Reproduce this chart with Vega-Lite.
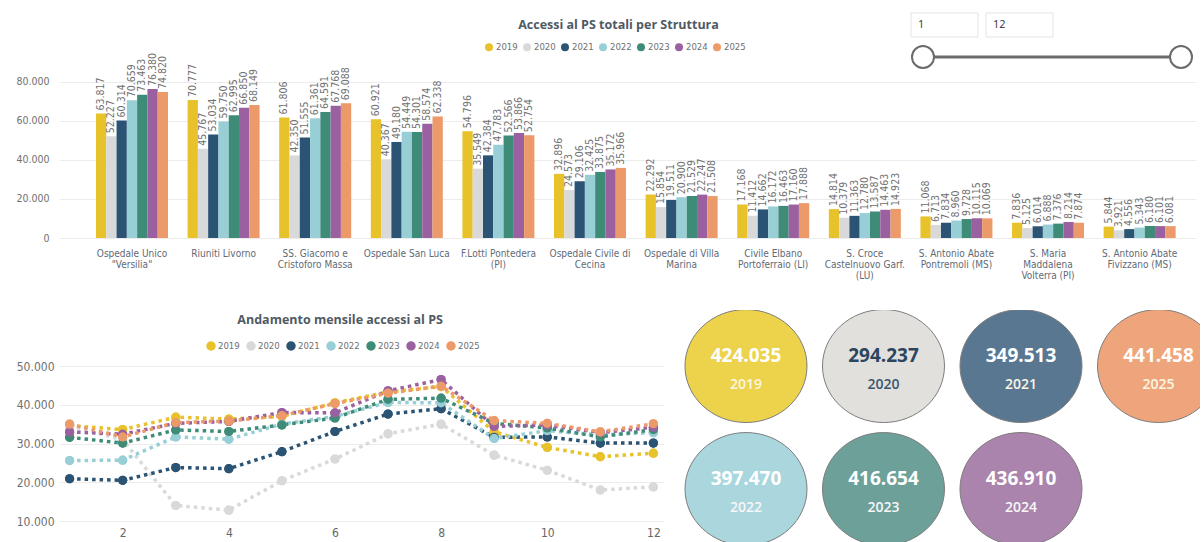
{
  "$schema": "https://vega.github.io/schema/vega-lite/v6.json",
  "background": "white",
  "padding": {"left": 15, "top": 10, "right": 0, "bottom": 0},
  "config": {
    "locale": {"number": {"decimal": ",", "thousands": ".", "grouping": [3], "currency": ["€", ""]}},
    "view": {"stroke": null},
    "font": "Open Sans"
  },
  "datasets": {
    "bars": [
      {"hospital": "Ospedale Unico\n\"Versilia\"", "year": "2019", "value": 63817},
      {"hospital": "Ospedale Unico\n\"Versilia\"", "year": "2020", "value": 52227},
      {"hospital": "Ospedale Unico\n\"Versilia\"", "year": "2021", "value": 60314},
      {"hospital": "Ospedale Unico\n\"Versilia\"", "year": "2022", "value": 70659},
      {"hospital": "Ospedale Unico\n\"Versilia\"", "year": "2023", "value": 73463},
      {"hospital": "Ospedale Unico\n\"Versilia\"", "year": "2024", "value": 76380},
      {"hospital": "Ospedale Unico\n\"Versilia\"", "year": "2025", "value": 74820},
      {"hospital": "Riuniti Livorno", "year": "2019", "value": 70777},
      {"hospital": "Riuniti Livorno", "year": "2020", "value": 45767},
      {"hospital": "Riuniti Livorno", "year": "2021", "value": 53034},
      {"hospital": "Riuniti Livorno", "year": "2022", "value": 59750},
      {"hospital": "Riuniti Livorno", "year": "2023", "value": 62995},
      {"hospital": "Riuniti Livorno", "year": "2024", "value": 66850},
      {"hospital": "Riuniti Livorno", "year": "2025", "value": 68149},
      {"hospital": "SS. Giacomo e\nCristoforo Massa", "year": "2019", "value": 61806},
      {"hospital": "SS. Giacomo e\nCristoforo Massa", "year": "2020", "value": 42350},
      {"hospital": "SS. Giacomo e\nCristoforo Massa", "year": "2021", "value": 51555},
      {"hospital": "SS. Giacomo e\nCristoforo Massa", "year": "2022", "value": 61361},
      {"hospital": "SS. Giacomo e\nCristoforo Massa", "year": "2023", "value": 64591},
      {"hospital": "SS. Giacomo e\nCristoforo Massa", "year": "2024", "value": 67768},
      {"hospital": "SS. Giacomo e\nCristoforo Massa", "year": "2025", "value": 69088},
      {"hospital": "Ospedale San Luca", "year": "2019", "value": 60921},
      {"hospital": "Ospedale San Luca", "year": "2020", "value": 40367},
      {"hospital": "Ospedale San Luca", "year": "2021", "value": 49180},
      {"hospital": "Ospedale San Luca", "year": "2022", "value": 54449},
      {"hospital": "Ospedale San Luca", "year": "2023", "value": 54301},
      {"hospital": "Ospedale San Luca", "year": "2024", "value": 58574},
      {"hospital": "Ospedale San Luca", "year": "2025", "value": 62338},
      {"hospital": "F.Lotti Pontedera\n(PI)", "year": "2019", "value": 54796},
      {"hospital": "F.Lotti Pontedera\n(PI)", "year": "2020", "value": 35549},
      {"hospital": "F.Lotti Pontedera\n(PI)", "year": "2021", "value": 42384},
      {"hospital": "F.Lotti Pontedera\n(PI)", "year": "2022", "value": 47783},
      {"hospital": "F.Lotti Pontedera\n(PI)", "year": "2023", "value": 52566},
      {"hospital": "F.Lotti Pontedera\n(PI)", "year": "2024", "value": 53866},
      {"hospital": "F.Lotti Pontedera\n(PI)", "year": "2025", "value": 52754},
      {"hospital": "Ospedale Civile di\nCecina", "year": "2019", "value": 32896},
      {"hospital": "Ospedale Civile di\nCecina", "year": "2020", "value": 24573},
      {"hospital": "Ospedale Civile di\nCecina", "year": "2021", "value": 29106},
      {"hospital": "Ospedale Civile di\nCecina", "year": "2022", "value": 32425},
      {"hospital": "Ospedale Civile di\nCecina", "year": "2023", "value": 33875},
      {"hospital": "Ospedale Civile di\nCecina", "year": "2024", "value": 35172},
      {"hospital": "Ospedale Civile di\nCecina", "year": "2025", "value": 35966},
      {"hospital": "Ospedale di Villa\nMarina", "year": "2019", "value": 22292},
      {"hospital": "Ospedale di Villa\nMarina", "year": "2020", "value": 15854},
      {"hospital": "Ospedale di Villa\nMarina", "year": "2021", "value": 19511},
      {"hospital": "Ospedale di Villa\nMarina", "year": "2022", "value": 20900},
      {"hospital": "Ospedale di Villa\nMarina", "year": "2023", "value": 21529},
      {"hospital": "Ospedale di Villa\nMarina", "year": "2024", "value": 22247},
      {"hospital": "Ospedale di Villa\nMarina", "year": "2025", "value": 21508},
      {"hospital": "Civile Elbano\nPortoferraio (LI)", "year": "2019", "value": 17168},
      {"hospital": "Civile Elbano\nPortoferraio (LI)", "year": "2020", "value": 11412},
      {"hospital": "Civile Elbano\nPortoferraio (LI)", "year": "2021", "value": 14662},
      {"hospital": "Civile Elbano\nPortoferraio (LI)", "year": "2022", "value": 16172},
      {"hospital": "Civile Elbano\nPortoferraio (LI)", "year": "2023", "value": 16463},
      {"hospital": "Civile Elbano\nPortoferraio (LI)", "year": "2024", "value": 17160},
      {"hospital": "Civile Elbano\nPortoferraio (LI)", "year": "2025", "value": 17888},
      {"hospital": "S. Croce\nCastelnuovo Garf.\n(LU)", "year": "2019", "value": 14814},
      {"hospital": "S. Croce\nCastelnuovo Garf.\n(LU)", "year": "2020", "value": 10379},
      {"hospital": "S. Croce\nCastelnuovo Garf.\n(LU)", "year": "2021", "value": 11363},
      {"hospital": "S. Croce\nCastelnuovo Garf.\n(LU)", "year": "2022", "value": 12780},
      {"hospital": "S. Croce\nCastelnuovo Garf.\n(LU)", "year": "2023", "value": 13587},
      {"hospital": "S. Croce\nCastelnuovo Garf.\n(LU)", "year": "2024", "value": 14463},
      {"hospital": "S. Croce\nCastelnuovo Garf.\n(LU)", "year": "2025", "value": 14923},
      {"hospital": "S. Antonio Abate\nPontremoli (MS)", "year": "2019", "value": 11068},
      {"hospital": "S. Antonio Abate\nPontremoli (MS)", "year": "2020", "value": 6713},
      {"hospital": "S. Antonio Abate\nPontremoli (MS)", "year": "2021", "value": 7834},
      {"hospital": "S. Antonio Abate\nPontremoli (MS)", "year": "2022", "value": 8960},
      {"hospital": "S. Antonio Abate\nPontremoli (MS)", "year": "2023", "value": 9728},
      {"hospital": "S. Antonio Abate\nPontremoli (MS)", "year": "2024", "value": 10115},
      {"hospital": "S. Antonio Abate\nPontremoli (MS)", "year": "2025", "value": 10069},
      {"hospital": "S. Maria\nMaddalena\nVolterra (PI)", "year": "2019", "value": 7836},
      {"hospital": "S. Maria\nMaddalena\nVolterra (PI)", "year": "2020", "value": 5125},
      {"hospital": "S. Maria\nMaddalena\nVolterra (PI)", "year": "2021", "value": 6014},
      {"hospital": "S. Maria\nMaddalena\nVolterra (PI)", "year": "2022", "value": 6888},
      {"hospital": "S. Maria\nMaddalena\nVolterra (PI)", "year": "2023", "value": 7376},
      {"hospital": "S. Maria\nMaddalena\nVolterra (PI)", "year": "2024", "value": 8214},
      {"hospital": "S. Maria\nMaddalena\nVolterra (PI)", "year": "2025", "value": 7874},
      {"hospital": "S. Antonio Abate\nFivizzano (MS)", "year": "2019", "value": 5844},
      {"hospital": "S. Antonio Abate\nFivizzano (MS)", "year": "2020", "value": 3921},
      {"hospital": "S. Antonio Abate\nFivizzano (MS)", "year": "2021", "value": 4556},
      {"hospital": "S. Antonio Abate\nFivizzano (MS)", "year": "2022", "value": 5343},
      {"hospital": "S. Antonio Abate\nFivizzano (MS)", "year": "2023", "value": 6180},
      {"hospital": "S. Antonio Abate\nFivizzano (MS)", "year": "2024", "value": 6101},
      {"hospital": "S. Antonio Abate\nFivizzano (MS)", "year": "2025", "value": 6081}
    ],
    "monthly": [
      {"year": "2019", "month": 1, "value": 34600}, {"year": "2019", "month": 2, "value": 33600}, {"year": "2019", "month": 3, "value": 36800}, {"year": "2019", "month": 4, "value": 36300}, {"year": "2019", "month": 5, "value": 37000}, {"year": "2019", "month": 6, "value": 40500}, {"year": "2019", "month": 7, "value": 43300}, {"year": "2019", "month": 8, "value": 44700}, {"year": "2019", "month": 9, "value": 33000}, {"year": "2019", "month": 10, "value": 29000}, {"year": "2019", "month": 11, "value": 26600}, {"year": "2019", "month": 12, "value": 27500},
      {"year": "2020", "month": 1, "value": 34500}, {"year": "2020", "month": 2, "value": 31000}, {"year": "2020", "month": 3, "value": 14000}, {"year": "2020", "month": 4, "value": 12800}, {"year": "2020", "month": 5, "value": 20400}, {"year": "2020", "month": 6, "value": 26000}, {"year": "2020", "month": 7, "value": 32500}, {"year": "2020", "month": 8, "value": 35000}, {"year": "2020", "month": 9, "value": 27000}, {"year": "2020", "month": 10, "value": 23100}, {"year": "2020", "month": 11, "value": 18000}, {"year": "2020", "month": 12, "value": 18800},
      {"year": "2021", "month": 1, "value": 20900}, {"year": "2021", "month": 2, "value": 20500}, {"year": "2021", "month": 3, "value": 23800}, {"year": "2021", "month": 4, "value": 23500}, {"year": "2021", "month": 5, "value": 27900}, {"year": "2021", "month": 6, "value": 33100}, {"year": "2021", "month": 7, "value": 37600}, {"year": "2021", "month": 8, "value": 39000}, {"year": "2021", "month": 9, "value": 31600}, {"year": "2021", "month": 10, "value": 31700}, {"year": "2021", "month": 11, "value": 30100}, {"year": "2021", "month": 12, "value": 30100},
      {"year": "2022", "month": 1, "value": 25600}, {"year": "2022", "month": 2, "value": 25700}, {"year": "2022", "month": 3, "value": 31700}, {"year": "2022", "month": 4, "value": 31100}, {"year": "2022", "month": 5, "value": 35000}, {"year": "2022", "month": 6, "value": 37000}, {"year": "2022", "month": 7, "value": 40600}, {"year": "2022", "month": 8, "value": 40500}, {"year": "2022", "month": 9, "value": 31300}, {"year": "2022", "month": 10, "value": 33300}, {"year": "2022", "month": 11, "value": 32200}, {"year": "2022", "month": 12, "value": 32800},
      {"year": "2023", "month": 1, "value": 31600}, {"year": "2023", "month": 2, "value": 30100}, {"year": "2023", "month": 3, "value": 33500}, {"year": "2023", "month": 4, "value": 33100}, {"year": "2023", "month": 5, "value": 34800}, {"year": "2023", "month": 6, "value": 36600}, {"year": "2023", "month": 7, "value": 41400}, {"year": "2023", "month": 8, "value": 41700}, {"year": "2023", "month": 9, "value": 35200}, {"year": "2023", "month": 10, "value": 34000}, {"year": "2023", "month": 11, "value": 31700}, {"year": "2023", "month": 12, "value": 33600},
      {"year": "2024", "month": 1, "value": 33000}, {"year": "2024", "month": 2, "value": 32400}, {"year": "2024", "month": 3, "value": 35200}, {"year": "2024", "month": 4, "value": 35700}, {"year": "2024", "month": 5, "value": 38000}, {"year": "2024", "month": 6, "value": 37900}, {"year": "2024", "month": 7, "value": 43600}, {"year": "2024", "month": 8, "value": 46500}, {"year": "2024", "month": 9, "value": 34400}, {"year": "2024", "month": 10, "value": 34800}, {"year": "2024", "month": 11, "value": 32800}, {"year": "2024", "month": 12, "value": 34200},
      {"year": "2025", "month": 1, "value": 35000}, {"year": "2025", "month": 2, "value": 31700}, {"year": "2025", "month": 3, "value": 35400}, {"year": "2025", "month": 4, "value": 35800}, {"year": "2025", "month": 5, "value": 37200}, {"year": "2025", "month": 6, "value": 40300}, {"year": "2025", "month": 7, "value": 43000}, {"year": "2025", "month": 8, "value": 44800}, {"year": "2025", "month": 9, "value": 35900}, {"year": "2025", "month": 10, "value": 35200}, {"year": "2025", "month": 11, "value": 33000}, {"year": "2025", "month": 12, "value": 35100}
    ],
    "slider": [
      {"handle": "min", "month": 1},
      {"handle": "max", "month": 12}
    ]
  },
  "spacing": 30,
  "resolve": {"scale": {"color": "independent"}, "legend": {"color": "independent"}},
  "vconcat": [
    {
      "width": 1137,
      "height": 228,
      "title": {"text": "Accessi al PS totali per Struttura", "anchor": "middle", "frame": "group", "offset": -21, "dx": -9, "fontSize": 12.5, "font": "Open Sans", "fontWeight": 700, "color": "#4f5a65"},
      "resolve": {"scale": {"x": "independent", "y": "independent"}},
      "layer": [
        {
          "data": {"name": "bars"},
          "encoding": {
            "x": {"field": "hospital", "type": "nominal", "sort": null,
              "scale": {"paddingInner": 0.214, "paddingOuter": 0.313, "align": 0.645},
              "axis": {"title": null, "labelAngle": 0, "labelExpr": "split(datum.label, '\\n')", "labelFont": "DejaVu Sans Condensed", "labelFontSize": 10, "labelColor": "#5f6a76", "labelPadding": 10, "labelLineHeight": 11, "domain": false, "ticks": false, "labelLimit": 0}},
            "xOffset": {"field": "year", "type": "nominal", "sort": ["2019", "2020", "2021", "2022", "2023", "2024", "2025"], "scale": {"paddingInner": 0, "paddingOuter": 0}},
            "y": {"field": "value", "type": "quantitative", "scale": {"domain": [0, 116923], "nice": false},
              "axis": {"title": null, "values": [0, 20000, 40000, 60000, 80000], "format": ",.0f", "grid": true, "gridColor": "#ececec", "domain": false, "ticks": false, "labelPadding": 10, "labelFont": "DejaVu Sans Condensed", "labelFontSize": 10.5, "labelColor": "#707070"}}
          },
          "layer": [
            {
              "mark": {"type": "bar"},
              "encoding": {
                "color": {"field": "year", "type": "nominal",
                  "scale": {"domain": ["2019", "2020", "2021", "2022", "2023", "2024", "2025"], "range": ["#E8C22A", "#D9D9D9", "#2B5373", "#98CED5", "#3E8B77", "#9B60A0", "#EC9A69"]},
                  "legend": {"orient": "none", "legendX": 425, "legendY": 32, "direction": "horizontal", "columns": 7, "title": null, "symbolType": "circle", "symbolSize": 64, "labelFont": "DejaVu Sans Condensed", "labelFontSize": 9.5, "labelColor": "#707070", "columnPadding": 4, "labelOffset": 2}}
              }
            },
            {
              "mark": {"type": "text", "angle": -90, "align": "left", "baseline": "middle", "dx": 3, "font": "DejaVu Sans Condensed", "fontSize": 10.5, "color": "#707070"},
              "encoding": {"text": {"field": "value", "type": "quantitative", "format": ",.0f"}}
            }
          ]
        },
        {
          "data": {"name": "slider"},
          "encoding": {
            "y": {"datum": "track", "type": "nominal", "scale": {"domain": ["input", "track"], "range": [3, 59], "paddingInner": 0.25, "paddingOuter": 0}, "axis": null}
          },
          "layer": [
            {
              "mark": {"type": "rule", "stroke": "#6b6b6b", "strokeWidth": 3},
              "encoding": {
                "x": {"aggregate": "min", "field": "month", "type": "quantitative", "scale": {"domain": [1, 12], "range": [864, 1122]}, "axis": null},
                "x2": {"aggregate": "max", "field": "month"}
              }
            },
            {
              "mark": {"type": "point", "shape": "circle", "filled": true, "fill": "white", "stroke": "#6b6b6b", "strokeWidth": 2, "size": 484, "opacity": 1},
              "encoding": {
                "x": {"field": "month", "type": "quantitative", "scale": {"domain": [1, 12], "range": [864, 1122]}, "axis": null}
              }
            }
          ]
        },
        {
          "data": {"name": "slider"},
          "encoding": {
            "x": {"field": "handle", "type": "nominal", "sort": ["min", "max"], "scale": {"domain": ["min", "max"], "range": [852, 994], "paddingInner": 0.107, "paddingOuter": 0}, "axis": null},
            "y": {"datum": "input", "type": "nominal", "scale": {"domain": ["input", "track"], "range": [3, 59], "paddingInner": 0.25, "paddingOuter": 0}, "axis": null}
          },
          "layer": [
            {"mark": {"type": "rect", "fill": "white", "stroke": "#e4e4e4", "strokeWidth": 1}},
            {
              "mark": {"type": "text", "align": "left", "dx": 7, "fontSize": 11, "color": "#333333", "font": "Open Sans"},
              "encoding": {
                "x": {"field": "handle", "type": "nominal", "bandPosition": 0, "sort": ["min", "max"], "scale": {"domain": ["min", "max"], "range": [852, 994], "paddingInner": 0.107, "paddingOuter": 0}, "axis": null},
                "text": {"field": "month", "type": "nominal"}
              }
            }
          ]
        }
      ]
    },
    {
      "spacing": 13,
      "hconcat": [
        {
          "width": 605,
          "height": 213,
          "data": {"name": "monthly"},
          "title": {"text": "Andamento mensile accessi al PS", "anchor": "middle", "frame": "bounds", "offset": -16, "fontSize": 12.5, "fontWeight": 700, "color": "#4f5a65", "font": "Open Sans"},
          "encoding": {
            "x": {"field": "month", "type": "quantitative", "scale": {"domain": [0.8, 12.2], "nice": false, "zero": false},
              "axis": {"values": [2, 4, 6, 8, 10, 12], "title": null, "grid": false, "domain": false, "ticks": false, "labelFont": "DejaVu Sans Condensed", "labelFontSize": 12, "labelColor": "#666666", "labelPadding": 4}},
            "y": {"field": "value", "type": "quantitative", "scale": {"domain": [9484, 64452], "nice": false, "zero": false},
              "axis": {"values": [10000, 20000, 30000, 40000, 50000], "format": ",.0f", "title": null, "gridColor": "#ececec", "domain": false, "ticks": false, "labelFont": "DejaVu Sans Condensed", "labelFontSize": 12, "labelColor": "#707070", "labelPadding": 5}}
          },
          "layer": [
            {
              "mark": {"type": "point", "filled": true, "size": 85, "opacity": 1},
              "encoding": {
                "color": {"field": "year", "type": "nominal",
                  "scale": {"domain": ["2019", "2020", "2021", "2022", "2023", "2024", "2025"], "range": ["#E8C22A", "#D9D9D9", "#2B5373", "#98CED5", "#3E8B77", "#9B60A0", "#EC9A69"]},
                  "legend": {"orient": "none", "legendX": 147, "legendY": 31, "direction": "horizontal", "columns": 7, "title": null, "symbolType": "circle", "symbolSize": 64, "labelFont": "DejaVu Sans Condensed", "labelFontSize": 9.5, "labelColor": "#707070", "columnPadding": 4, "labelOffset": 2}}
              }
            },
            {
              "mark": {"type": "line", "strokeDash": [3.5, 4], "strokeWidth": 3.5, "strokeCap": "butt"},
              "encoding": {
                "color": {"field": "year", "type": "nominal",
                  "scale": {"domain": ["2019", "2020", "2021", "2022", "2023", "2024", "2025"], "range": ["#E8C22A", "#D9D9D9", "#2B5373", "#98CED5", "#3E8B77", "#9B60A0", "#EC9A69"]},
                  "legend": null}
              }
            },
            {
              "mark": {"type": "point", "filled": true, "size": 85, "opacity": 1},
              "encoding": {
                "color": {"field": "year", "type": "nominal",
                  "scale": {"domain": ["2019", "2020", "2021", "2022", "2023", "2024", "2025"], "range": ["#E8C22A", "#D9D9D9", "#2B5373", "#98CED5", "#3E8B77", "#9B60A0", "#EC9A69"]},
                  "legend": null}
              }
            }
          ]
        },
        {
          "width": 523,
          "height": 232,
          "data": {"name": "bars"},
          "transform": [
            {"aggregate": [{"op": "sum", "field": "value", "as": "total"}], "groupby": ["year"]}
          ],
          "resolve": {"scale": {"x": "independent"}},
          "layer": [
            {
              "transform": [{"filter": {"field": "year", "oneOf": ["2019", "2020", "2021", "2025"]}}],
              "encoding": {
                "x": {"field": "year", "type": "nominal", "scale": {"type": "point", "domain": ["2019", "2020", "2021", "2025"], "padding": 0.4018, "align": 0.6244}, "axis": null},
                "y": {"datum": "upper", "type": "nominal", "scale": {"type": "point", "domain": ["upper", "lower"], "padding": 0.443, "align": 0.514}, "axis": null}
              },
              "layer": [
                {
                  "mark": {"type": "point", "shape": "M -1 0 A 1 0.926 0 1 0 1 0 A 1 0.926 0 1 0 -1 0 Z", "filled": true, "size": 14884, "stroke": "#7d7d7d", "strokeWidth": 1, "opacity": 1, "clip": true},
                  "encoding": {"fill": {"field": "year", "type": "nominal", "scale": {"domain": ["2019", "2020", "2021", "2022", "2023", "2024", "2025"], "range": ["#EDD24C", "#E1E0DD", "#5A7791", "#AAD6DD", "#6CA099", "#AA84AD", "#EFA57B"]}, "legend": null}}
                },
                {
                  "mark": {"type": "text", "dy": -10, "font": "Open Sans", "fontWeight": 700, "fontSize": 19, "clip": true},
                  "encoding": {
                    "text": {"field": "total", "type": "quantitative", "format": ",.0f"},
                    "color": {"condition": {"test": "datum.year === '2020'", "value": "#2c4660"}, "value": "#ffffff"}
                  }
                },
                {
                  "mark": {"type": "text", "dy": 19, "font": "Open Sans", "fontWeight": 600, "fontSize": 14, "clip": true},
                  "encoding": {
                    "text": {"field": "year", "type": "nominal"},
                    "color": {"condition": {"test": "datum.year === '2020'", "value": "#3d566c"}, "value": "#fbf6e4"}
                  }
                }
              ]
            },
            {
              "transform": [{"filter": {"field": "year", "oneOf": ["2022", "2023", "2024"]}}],
              "encoding": {
                "x": {"field": "year", "type": "nominal", "scale": {"type": "point", "domain": ["2022", "2023", "2024", "2025"], "padding": 0.4018, "align": 0.6244}, "axis": null},
                "y": {"datum": "lower", "type": "nominal", "scale": {"type": "point", "domain": ["upper", "lower"], "padding": 0.443, "align": 0.514}, "axis": null}
              },
              "layer": [
                {
                  "mark": {"type": "point", "shape": "M -1 0 A 1 0.926 0 1 0 1 0 A 1 0.926 0 1 0 -1 0 Z", "filled": true, "size": 14884, "stroke": "#7d7d7d", "strokeWidth": 1, "opacity": 1, "clip": true},
                  "encoding": {"fill": {"field": "year", "type": "nominal", "scale": {"domain": ["2019", "2020", "2021", "2022", "2023", "2024", "2025"], "range": ["#EDD24C", "#E1E0DD", "#5A7791", "#AAD6DD", "#6CA099", "#AA84AD", "#EFA57B"]}, "legend": null}}
                },
                {
                  "mark": {"type": "text", "dy": -10, "font": "Open Sans", "fontWeight": 700, "fontSize": 19, "color": "#ffffff", "clip": true},
                  "encoding": {"text": {"field": "total", "type": "quantitative", "format": ",.0f"}}
                },
                {
                  "mark": {"type": "text", "dy": 19, "font": "Open Sans", "fontWeight": 600, "fontSize": 14, "color": "#f7f7f7", "clip": true},
                  "encoding": {"text": {"field": "year", "type": "nominal"}}
                }
              ]
            }
          ]
        }
      ]
    }
  ]
}
